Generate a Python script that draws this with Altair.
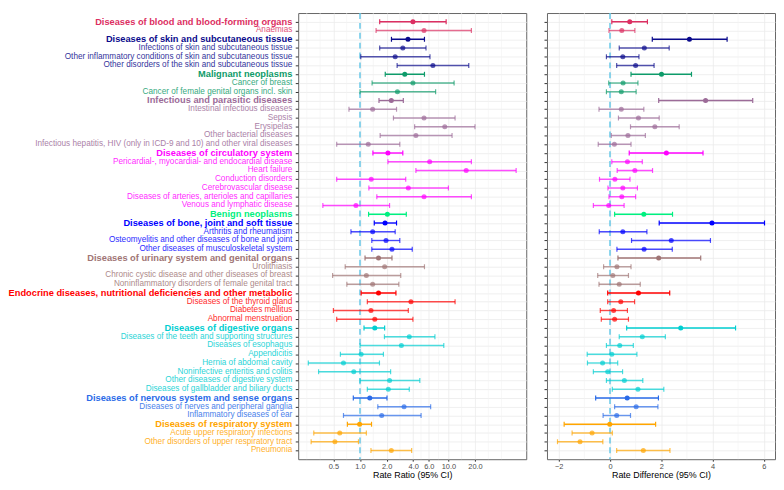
import altair as alt
import pandas as pd

FONT = "Liberation Sans"

labels = [
    "Diseases of blood and blood-forming organs", "Anaemias",
    "Diseases of skin and subcutaneous tissue", "Infections of skin and subcutaneous tissue",
    "Other inflammatory conditions of skin and subcutaneous tissue",
    "Other disorders of the skin and subcutaneous tissue",
    "Malignant neoplasms", "Cancer of breast", "Cancer of female genital organs incl. skin",
    "Infectious and parasitic diseases", "Intestinal infectious diseases", "Sepsis", "Erysipelas",
    "Other bacterial diseases",
    "Infectious hepatitis, HIV (only in ICD-9 and 10) and other viral diseases",
    "Diseases of circulatory system", "Pericardial-, myocardial- and endocardial disease",
    "Heart failure", "Conduction disorders", "Cerebrovascular disease",
    "Diseases of arteries, arterioles and capillaries", "Venous and lymphatic disease",
    "Benign neoplasms",
    "Diseases of bone, joint and soft tissue", "Arthritis and rheumatism",
    "Osteomyelitis and other diseases of bone and joint", "Other diseases of musculoskeletal system",
    "Diseases of urinary system and genital organs", "Urolithiasis",
    "Chronic cystic disease and other diseases of breast",
    "Noninflammatory disorders of female genital tract",
    "Endocrine diseases, nutritional deficiencies and other metabolic",
    "Diseases of the thyroid gland", "Diabetes mellitus", "Abnormal menstruation",
    "Diseases of digestive organs", "Diseases of the teeth and supporting structures",
    "Diseases of esophagus", "Appendicitis", "Hernia of abdomal cavity",
    "Noninfective enteritis and colitis", "Other diseases of digestive system",
    "Diseases of gallbladder and biliary ducts",
    "Diseases of nervous system and sense organs", "Diseases of nerves and peripheral ganglia",
    "Inflammatory diseases of ear",
    "Diseases of respiratory system", "Acute upper respiratory infections",
    "Other disorders of upper respiratory tract", "Pneumonia",
]

groups = (["blood"] * 2 + ["skin"] * 4 + ["malignant"] * 3 + ["infectious"] * 6 +
          ["circulatory"] * 7 + ["benign"] * 1 + ["bone"] * 4 + ["urinary"] * 4 +
          ["endocrine"] * 4 + ["digestive"] * 8 + ["nervous"] * 3 + ["respiratory"] * 4)

header_rows = [0, 2, 6, 9, 15, 22, 23, 27, 31, 35, 43, 46]

group_order = ["blood", "skin", "malignant", "infectious", "circulatory", "benign",
               "bone", "urinary", "endocrine", "digestive", "nervous", "respiratory"]
group_colors = ["#DC2F62", "#0A0A8C", "#0E9B6A", "#9C6B98", "#FF00FF", "#00F080",
                "#0000FF", "#A07575", "#FF0000", "#00CED1", "#2A6BE8", "#FFA500"]

rr = [3.97, 5.30, 3.49, 3.05, 2.50, 6.68, 3.21, 3.97, 2.65, 2.26, 1.39, 5.30, 9.10, 4.29, 1.24,
      2.07, 6.14, 15.9, 1.34, 3.52, 5.30, 0.90, 2.04, 1.92, 1.39, 1.97, 2.30, 1.62, 1.90, 1.18,
      1.39, 1.62, 3.77, 1.33, 1.47, 1.47, 3.61, 2.94, 1.03, 0.65, 0.85, 2.16, 2.09, 1.29, 3.15,
      1.76, 0.99, 0.59, 0.52, 2.26]
rr_lo = [1.67, 1.52, 2.27, 1.67, 1.02, 2.63, 1.93, 1.37, 1.00, 1.64, 0.75, 2.39, 4.15, 1.69, 0.545,
         1.40, 2.07, 4.29, 0.545, 1.26, 1.55, 0.38, 1.25, 1.45, 0.79, 1.36, 1.36, 1.14, 0.68, 0.49,
         0.71, 1.03, 1.21, 0.50, 0.545, 1.11, 1.89, 1.00, 0.60, 0.26, 0.34, 1.00, 1.21, 0.84, 1.59,
         0.65, 0.72, 0.30, 0.28, 1.33]
rr_hi = [9.43, 18.2, 5.36, 5.58, 6.19, 17.0, 5.36, 11.6, 7.17, 3.09, 2.59, 11.9, 20.0, 11.0, 2.82,
         3.05, 18.2, 58.4, 3.29, 10.0, 18.2, 2.16, 3.34, 2.59, 2.50, 2.82, 3.90, 2.30, 5.36, 2.89,
         2.75, 2.55, 11.9, 3.52, 3.97, 1.90, 7.04, 8.87, 1.84, 1.66, 2.22, 4.75, 3.61, 2.02, 6.30,
         4.91, 1.35, 1.18, 0.96, 3.84]

rd = [0.77, 0.46, 3.10, 1.34, 0.50, 1.00, 2.01, 0.51, 0.44, 3.73, 0.44, 1.11, 1.75, 0.70, 0.17,
      2.20, 0.68, 0.97, 0.19, 0.50, 0.46, -0.05, 1.32, 3.98, 0.50, 2.39, 1.33, 1.90, 0.27, 0.11,
      0.36, 1.11, 0.42, 0.14, 0.18, 2.76, 1.26, 0.38, 0.07, -0.29, -0.09, 0.56, 1.09, 0.67, 1.02,
      0.26, -0.01, -0.70, -1.17, 1.30]
rd_lo = [0.07, -0.04, 1.65, 0.36, -0.14, 0.26, 0.82, -0.05, -0.14, 1.90, -0.43, 0.33, 0.80, 0.05, -0.46,
         0.75, 0.07, 0.28, -0.41, -0.08, -0.04, -0.65, 0.18, 1.92, -0.42, 0.84, 0.27, 0.31, -0.25, -0.48,
         -0.43, -0.09, -0.09, -0.38, -0.34, 0.65, 0.36, -0.14, -0.89, -0.88, -0.65, -0.14, 0.09, -0.56, 0.18,
         -0.27, -1.79, -1.48, -2.05, 0.26]
rd_hi = [1.46, 0.97, 4.57, 2.31, 1.13, 1.72, 3.18, 1.09, 1.02, 5.57, 1.32, 1.92, 2.70, 1.38, 0.82,
         3.63, 1.26, 1.66, 0.78, 1.07, 1.00, 0.55, 2.44, 6.03, 1.44, 3.92, 2.43, 3.54, 0.82, 0.72,
         1.18, 2.33, 0.96, 0.68, 0.72, 4.90, 2.16, 0.91, 1.05, 0.30, 0.49, 1.28, 2.10, 1.89, 1.87,
         0.80, 1.78, 0.09, -0.28, 2.34]

rr_ticks = [0.5, 1, 2, 4, 6, 10, 20]
rr_minor = [0.25, 0.354, 0.707, 1.414, 2.83, 4.9, 7.75, 14.1, 28.3, 40]
rd_ticks = [-2, 0, 2, 4, 6]
rd_minor = [-1, 1, 3, 5]

df = pd.DataFrame({
    "label": labels, "group": groups,
    "header": [i in header_rows for i in range(len(labels))],
    "rr": rr, "rr_lo": rr_lo, "rr_hi": rr_hi,
    "rd": rd, "rd_lo": rd_lo, "rd_hi": rd_hi,
})

H = 452
LW = 279
color_scale = alt.Scale(domain=group_order, range=group_colors)
yscale = alt.Scale(type="point", domain=labels, padding=1)
opac = alt.condition("datum.header", alt.value(1.0), alt.value(0.7))
DASH_COLOR = "#5BC3E6"
GRID = "#EBEBEB"


def y_enc(show_axis=True):
    if show_axis:
        ax = alt.Axis(labels=False, ticks=True, tickSize=3, tickColor="#333333",
                      domain=False, grid=True, gridColor=GRID, gridWidth=0.8, title=None)
    else:
        ax = None
    return alt.Y("label:N", sort=labels, scale=yscale, axis=ax)


# ---- label panel ----
lab_base = alt.Chart(df).encode(
    y=y_enc(False),
    x=alt.value(LW),
    text="label:N",
    color=alt.Color("group:N", scale=color_scale, legend=None),
)
lab_head = lab_base.transform_filter("datum.header").mark_text(
    align="right", baseline="middle", fontSize=9.4, fontWeight="bold", font=FONT)
lab_sub = lab_base.transform_filter("!datum.header").mark_text(
    align="right", baseline="middle", fontSize=8.3, font=FONT, opacity=0.85)
label_panel = alt.layer(lab_head, lab_sub).properties(
    width=LW, height=H, view=alt.ViewBackground(strokeOpacity=0))


def panel(val, lo, hi, scale, ticks, minor, fmt, title, ref, width):
    xax = alt.Axis(values=ticks, format=fmt, title=title, grid=True, gridColor=GRID,
                   gridWidth=0.8, tickColor="#333333", tickSize=2, domain=False,
                   labelColor="#4D4D4D", labelFontSize=7.5, labelPadding=1,
                   titleFontSize=9, titleFontWeight="normal", titleColor="#000000",
                   titlePadding=1, labelFont=FONT, titleFont=FONT)
    minor_df = pd.DataFrame({"v": minor})
    grid_minor = alt.Chart(minor_df).mark_rule(color="#F2F2F2", strokeWidth=0.6).encode(
        x=alt.X("v:Q", scale=scale, axis=xax))
    ref_df = pd.DataFrame({"v": [ref]})
    dashed = alt.Chart(ref_df).mark_rule(
        color=DASH_COLOR, strokeDash=[6, 4], strokeWidth=1.4).encode(
        x=alt.X("v:Q", scale=scale, axis=xax))
    base = alt.Chart(df).encode(
        y=y_enc(True),
        color=alt.Color("group:N", scale=color_scale, legend=None),
        opacity=opac,
    )
    bars = base.mark_rule(strokeWidth=1.4).encode(
        x=alt.X(f"{lo}:Q", scale=scale, axis=xax), x2=f"{hi}:Q")
    cap_lo = base.mark_tick(thickness=1.2, size=5).encode(x=alt.X(f"{lo}:Q", scale=scale, axis=xax))
    cap_hi = base.mark_tick(thickness=1.2, size=5).encode(x=alt.X(f"{hi}:Q", scale=scale, axis=xax))
    pts = base.mark_point(filled=True, size=26, shape="circle").encode(
        x=alt.X(f"{val}:Q", scale=scale, axis=xax))
    return alt.layer(grid_minor, dashed, bars, cap_lo, cap_hi, pts).properties(width=width, height=H)


rr_scale = alt.Scale(type="log", domain=[0.2, 76], nice=False, zero=False)
rd_scale = alt.Scale(domain=[-2.46, 6.44], nice=False, zero=False)

rr_panel = panel("rr", "rr_lo", "rr_hi", rr_scale, rr_ticks, rr_minor, ".1f",
                 "Rate Ratio (95% CI)", 1, 231)
rd_panel = panel("rd", "rd_lo", "rd_hi", rd_scale, rd_ticks, rd_minor, "d",
                 "Rate Difference (95% CI)", 0, 231)

chart = alt.hconcat(
    label_panel,
    alt.hconcat(rr_panel, rd_panel, spacing=16),
    spacing=2,
).properties(padding=0, background="white").configure_view(
    stroke="#666666", strokeWidth=1
).configure_axis(labelFont=FONT, titleFont=FONT)

chart.save("out.html", embed_options={"renderer": "svg", "actions": False})
